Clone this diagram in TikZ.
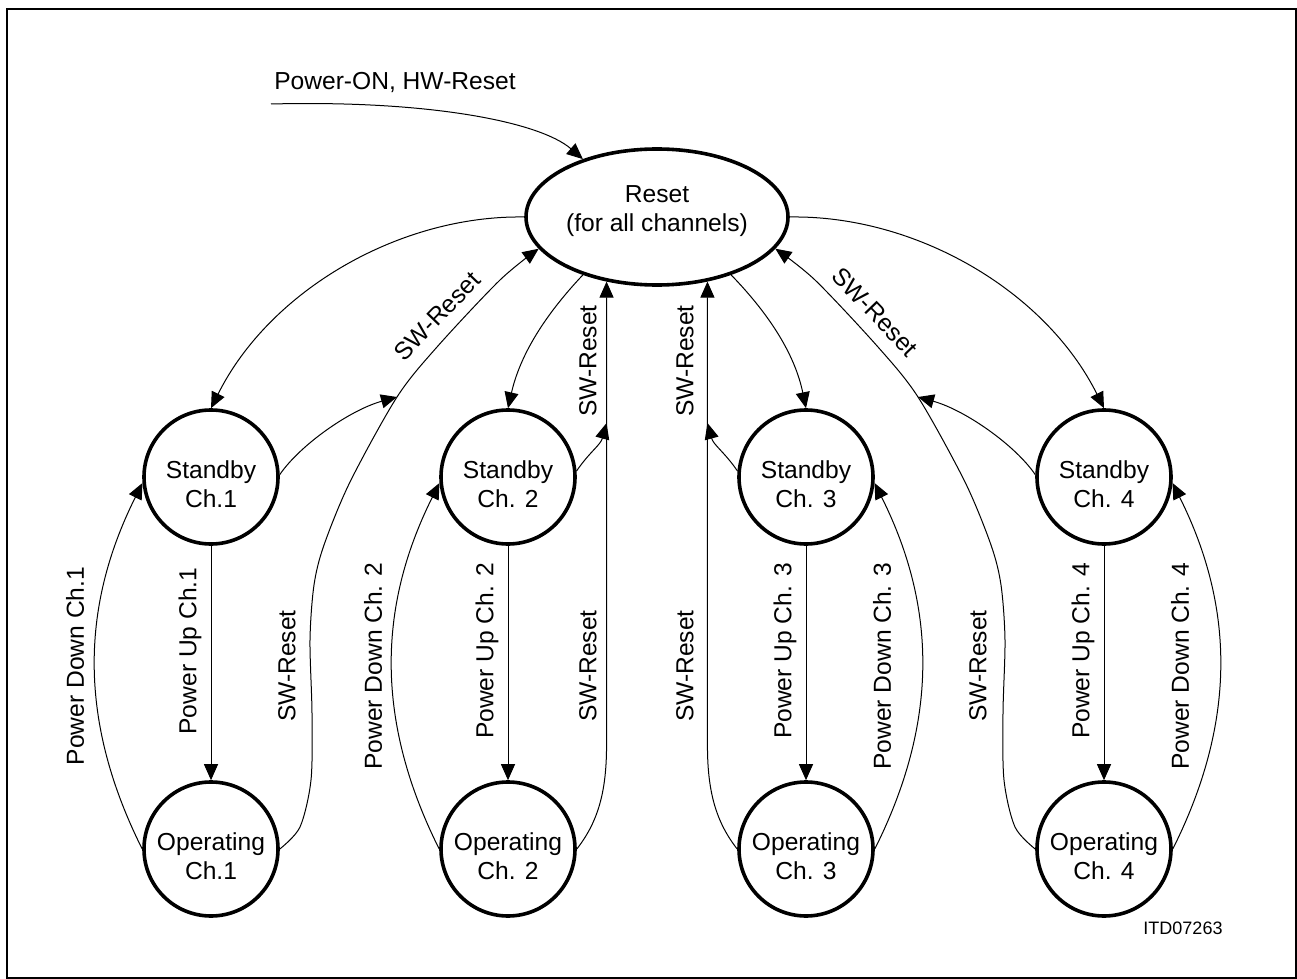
\documentclass[tikz,border=0pt]{standalone}
\usepackage{fontspec}
\setmainfont{Liberation Sans}
\usetikzlibrary{arrows.meta, shapes.geometric}

\begin{document}
\begin{tikzpicture}[x=0.5pt, y=-0.5pt,
    font=\fontsize{12.3}{14.5}\selectfont,
    state/.style={circle, draw, line width=1.8pt, minimum size=67pt, inner sep=0pt, align=center, text height=30.5pt},
    trans/.style={line width=0.5pt, -{Triangle[length=8pt,width=7pt]}}]
    \useasboundingbox (0,0) rectangle (1297,979);

    % Frame
    \draw[line width=1pt] (7,9) rectangle (1296,978);

    % Reset state
    \node[ellipse, draw, line width=1.8pt, minimum width=131pt, minimum height=68pt, inner sep=0pt] (reset) at (657,217)
        {\makebox[0pt]{\smash{\begin{tabular}{@{}c@{}}Reset\\(for all channels)\end{tabular}}}};

    % Standby and operating states, power up
    \foreach \i/\x/\c in {1/211/Ch.1, 2/508/Ch. 2, 3/806/Ch. 3, 4/1104/Ch. 4} {
        \node[state] (sb\i) at (\x,477) {Standby\\\c};
        \node[state] (op\i) at (\x,849) {Operating\\\c};
        \draw[trans] (sb\i) -- (op\i);
        \node[rotate=90, inner sep=1pt] (pu\i) at (\x-21,651) {Power Up \c};
    }

    % Power-ON entry
    \coordinate (start) at (271,104);
    \node (poweron) at (395,82) {Power-ON, HW-Reset};
    \draw[trans] (start) .. controls (430,100) and (540,122) .. (reset.142);

    % Reset -> standby
    \draw[trans] (reset.west) .. controls (400,215) and (270,290) .. (sb1.north);
    \draw[trans] (reset.218) .. controls (545,315) and (520,355) .. (sb2.north);
    \draw[trans] (reset.322) .. controls (770,315) and (795,355) .. (sb3.north);
    \draw[trans] (reset.east) .. controls (915,215) and (1045,290) .. (sb4.north);

    % Power down
    \draw[trans] (op1.west) .. controls +(-63,-126) and +(-63,126) .. (sb1.185);
    \draw[trans] (op2.west) .. controls +(-63,-126) and +(-63,126) .. (sb2.185);
    \draw[trans] (op3.east) .. controls +(63,-126) and +(63,126) .. (sb3.-5);
    \draw[trans] (op4.east) .. controls +(63,-126) and +(63,126) .. (sb4.-5);
    \node[rotate=90, inner sep=1pt] (pd1) at (75,666) {Power Down Ch.1};
    \node[rotate=90, inner sep=1pt] (pd2) at (373,666) {Power Down Ch. 2};
    \node[rotate=90, inner sep=1pt] (pd3) at (882,666) {Power Down Ch. 3};
    \node[rotate=90, inner sep=1pt] (pd4) at (1180,666) {Power Down Ch. 4};

    % SW-Reset, outer channels
    \coordinate (j1) at (397,397);
    \coordinate (j4) at (918,397);
    \draw[trans] plot[smooth] coordinates {(op1.east) (300,827) (311,780) (312,713) (310,640) (314,585)
        (324,545) (350,482) (j1) (437,347) (500,280) (reset.195)};
    \draw[trans] plot[smooth] coordinates {(op4.west) (1015,827) (1004,780) (1003,713) (1005,640) (1001,585)
        (991,545) (965,482) (j4) (878,347) (815,280) (reset.-15)};
    \draw[trans] (sb1.2) .. controls (300,445) and (350,410) .. (j1);
    \draw[trans] (sb4.178) .. controls (1015,445) and (965,410) .. (j4);

    % SW-Reset, inner channels
    \coordinate (b2) at (reset.232 |- 0,745);
    \coordinate (b3) at (reset.308 |- 0,745);
    \coordinate (j2) at (reset.232 |- 0,423);
    \coordinate (j3) at (reset.308 |- 0,423);
    \draw[trans] (op2.east) .. controls +(22,-28) and +(0,45) .. (b2) -- (reset.232);
    \draw[trans] (op3.west) .. controls +(-22,-28) and +(0,45) .. (b3) -- (reset.308);
    \draw[trans] (sb2.5) .. controls +(13,-19) and +(-6,22) .. (j2);
    \draw[trans] (sb3.175) .. controls +(-13,-19) and +(6,22) .. (j3);

    % SW-Reset labels
    \node[rotate=46, inner sep=1pt] (sw1) at (437,316) {SW-Reset};
    \node[rotate=-46, inner sep=1pt] (sw4) at (875,312) {SW-Reset};
    \node[rotate=90, inner sep=1pt] (sw2) at (588,361) {SW-Reset};
    \node[rotate=90, inner sep=1pt] (sw3) at (685,361) {SW-Reset};
    \node[rotate=90, inner sep=1pt] (swo1) at (287,666) {SW-Reset};
    \node[rotate=90, inner sep=1pt] (swo2) at (588,666) {SW-Reset};
    \node[rotate=90, inner sep=1pt] (swo3) at (685,666) {SW-Reset};
    \node[rotate=90, inner sep=1pt] (swo4) at (978,666) {SW-Reset};

    % Drawing number
    \node[font=\fontsize{9}{11}\selectfont] (itd) at (1183,928) {ITD07263};
\end{tikzpicture}
\end{document}
